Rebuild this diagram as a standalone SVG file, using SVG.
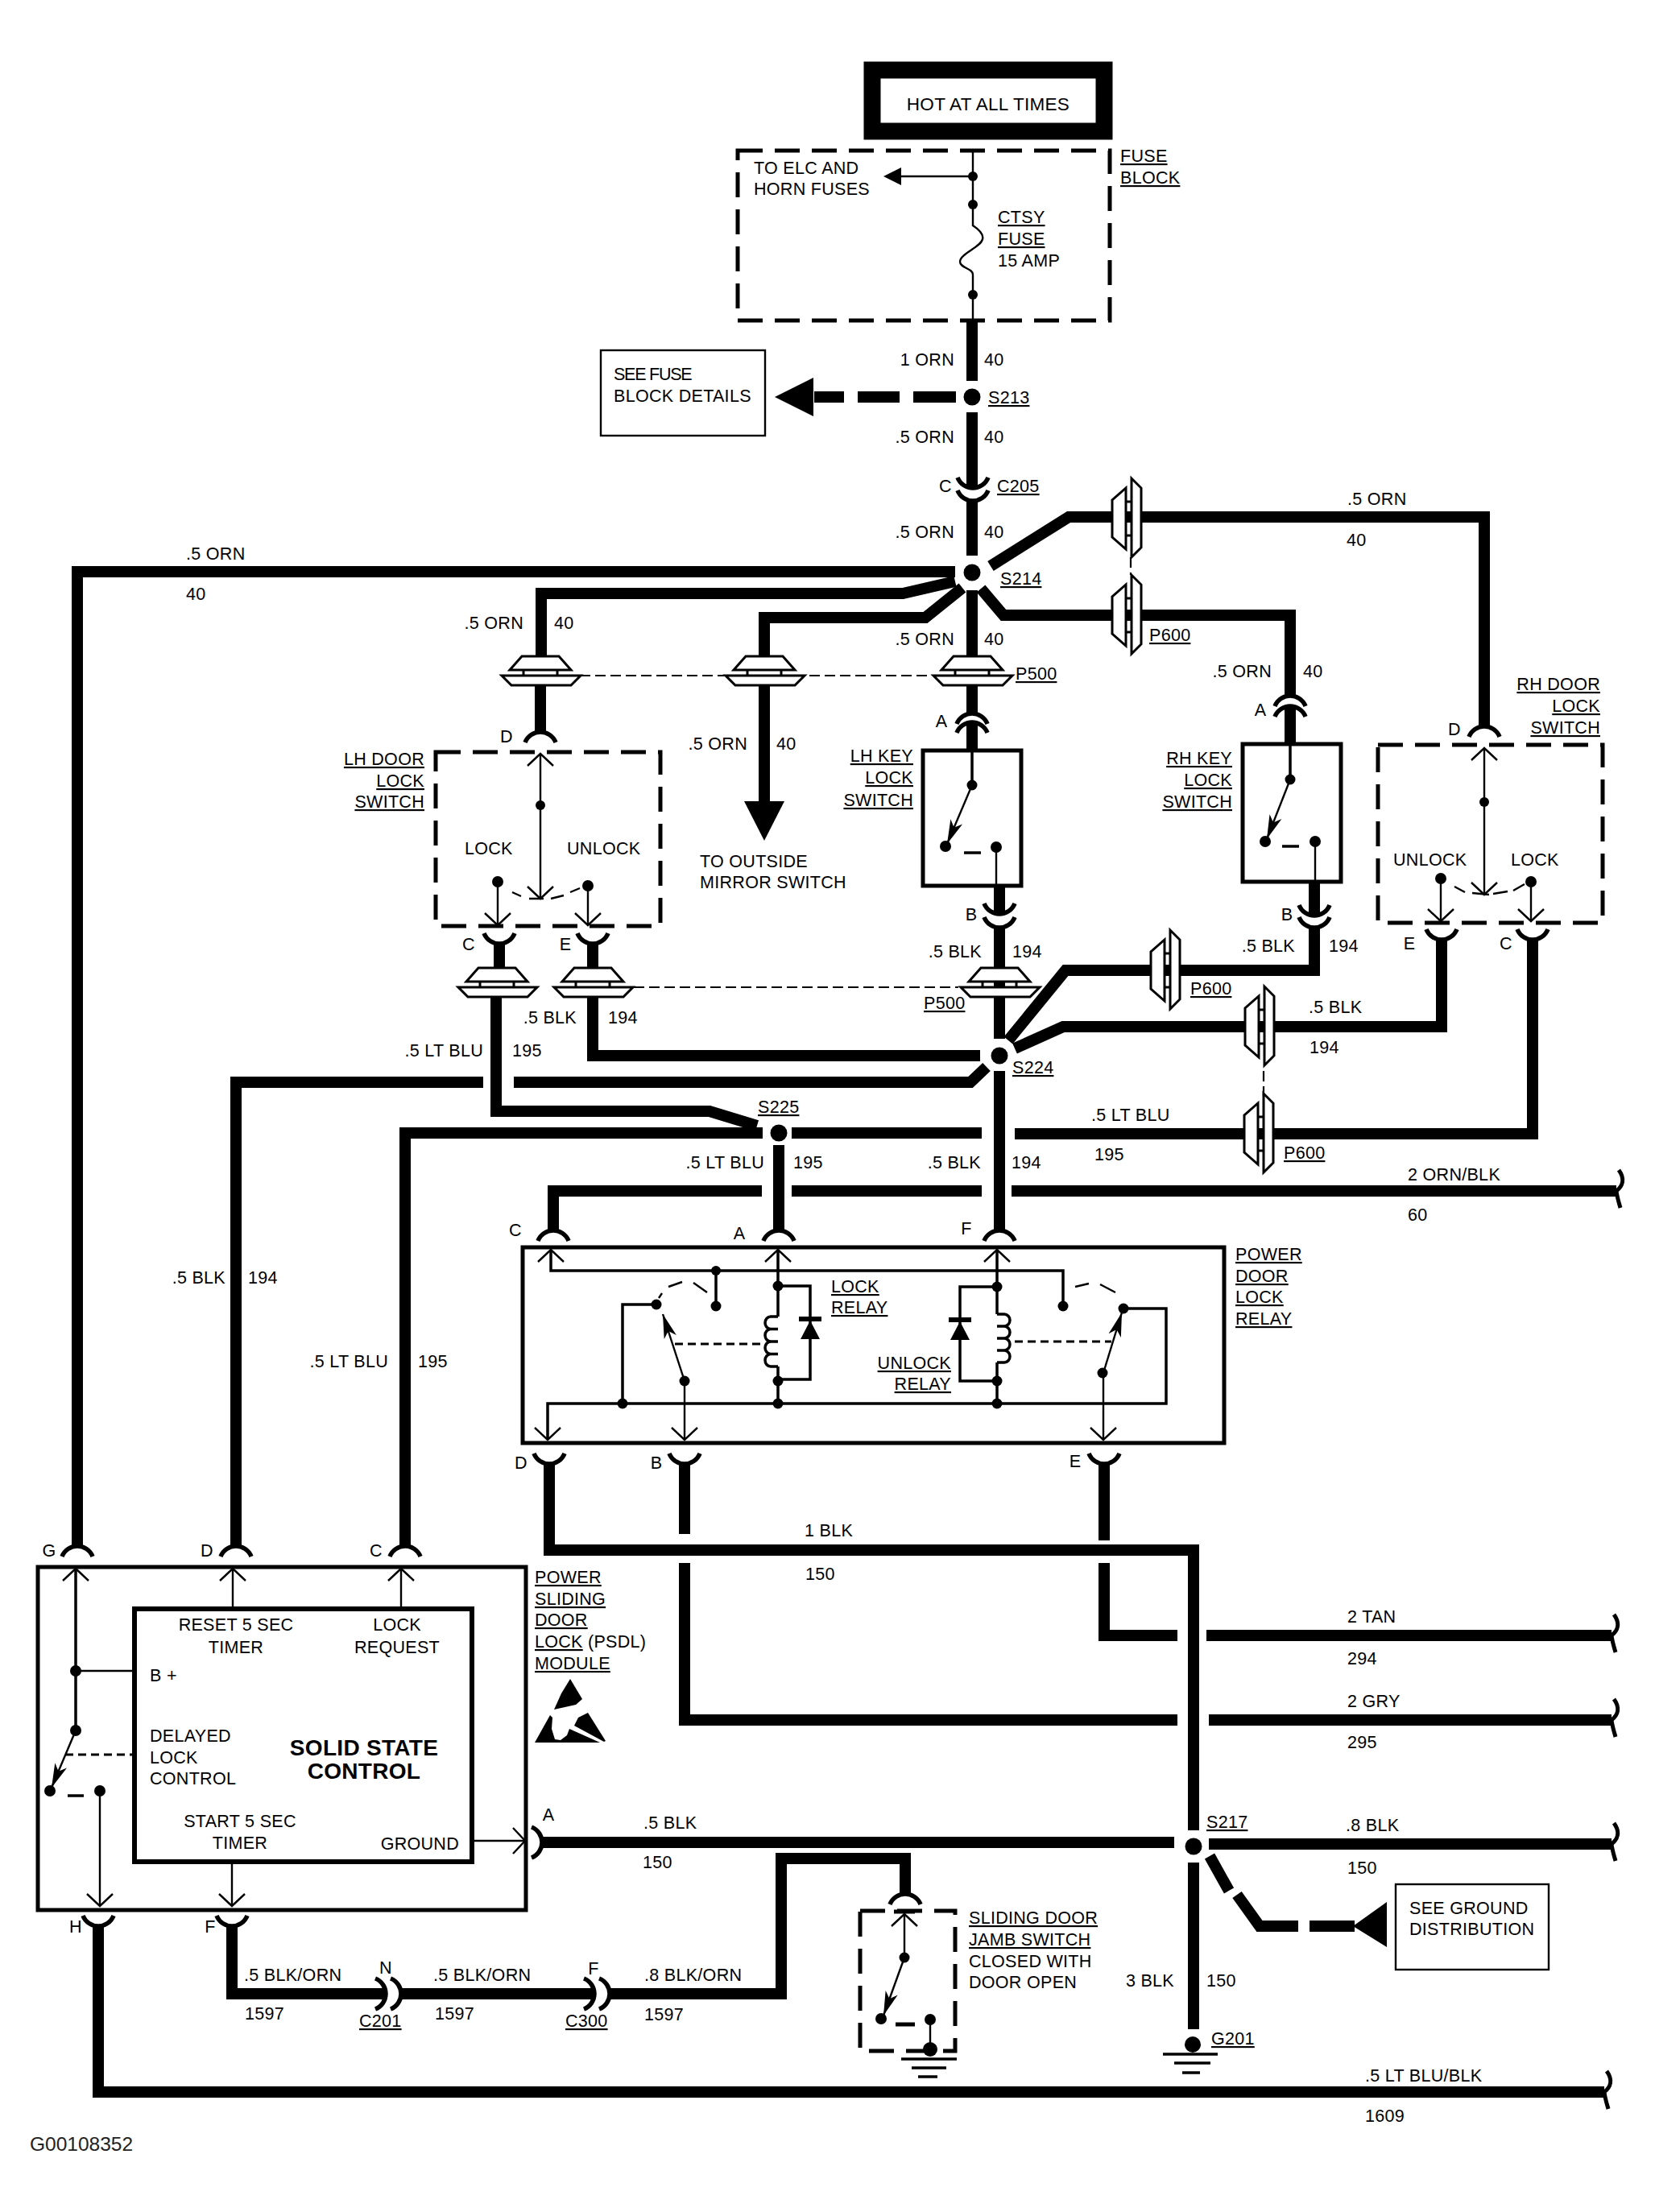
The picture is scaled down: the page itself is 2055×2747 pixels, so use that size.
<svg xmlns="http://www.w3.org/2000/svg" width="2055" height="2747" viewBox="0 0 2055 2747">
<style>
text{font-family:"Liberation Sans",Arial,sans-serif;font-size:21.5px;fill:#000;letter-spacing:.3px}
.r{text-anchor:end}.c{text-anchor:middle}
.u{text-decoration:underline;text-underline-offset:4px;text-decoration-thickness:1.5px}
.b{font-weight:bold;font-size:28px}
.w{fill:none;stroke:#000;stroke-width:14;stroke-linejoin:miter}
.t{fill:none;stroke:#000;stroke-width:2.4}
.t3{fill:none;stroke:#000;stroke-width:3.5}
.dl{fill:none;stroke:#000;stroke-width:2.2;stroke-dasharray:13 6}
.dt{fill:none;stroke:#000;stroke-width:3;stroke-dasharray:10 6}
.bx{fill:none;stroke:#000;stroke-width:5;stroke-dasharray:31 15}
.sb{fill:none;stroke:#000;stroke-width:5}
.lb{fill:#fff;stroke:#000;stroke-width:3}
.g{fill:none;stroke:#000;stroke-width:3.5}
.k{fill:#000}
</style>
<defs>
<g id="pt">
<path class="lb" d="M-21,-7V1M21,-7V1"/>
<polygon class="lb" points="-23,-24 23,-24 38,-7 -38,-7"/>
<polygon class="lb" points="-48,0 50,0 38,12 -36,12"/>
</g>
<path id="ch" class="t" d="M-16,15L0,0L16,15"/>
<path id="ar" fill="none" stroke="#000" stroke-width="5.5" d="M-19,-13C-16,-5 -8,0 0,0C8,0 16,-5 19,-13"/>
<path id="en" fill="none" stroke="#000" stroke-width="5" d="M3,-26C11,-15 8,-6 0,0C1,8 3,14 5,21"/>
<marker id="bl" viewBox="-30 -9 32 18" refX="0" refY="0" markerWidth="32" markerHeight="18" markerUnits="userSpaceOnUse" orient="auto"><path d="M0,0L-30,-8L-22,0L-30,8Z"/></marker>
</defs>
<rect width="2055" height="2747" fill="#fff"/>

<g id="connectors">
<path class="w" d="M1207,397V473M1207,512V606M1207,622V690"/>
<path class="w" d="M1230,703L1327,642H1843V902"/>
<path class="w" d="M1218,731L1246,764H1602V864M1602,877V924"/>
<path class="w" d="M1186,710H96V1920"/>
<path class="w" d="M1186,722L1121,737H672V815"/>
<path class="w" d="M1195,730L1149,767H949V815"/>
<path class="w" d="M1207,733V815M1207,851V886M1207,897V932"/>
<path class="w" d="M671,851V909"/>
<path class="w" d="M949,851V996"/>
<polygon class="k" points="949,1044 924,995 974,995"/>
<path class="w" d="M1241,1100V1135M1241,1152V1290"/>
<path class="w" d="M1632,1095V1137M1632,1152V1205H1323L1252,1292"/>
<path class="w" d="M1790,1167V1275H1320L1260,1302"/>
<path class="w" d="M1903,1167V1408H1260"/>
<path class="w" d="M1219,1407H983"/>
<path class="w" d="M947,1407H503V1920"/>
<path class="w" d="M620,1172V1205M616,1238V1380H881L940,1398"/>
<path class="w" d="M736,1172V1205M736,1238V1311H1217"/>
<path class="w" d="M293,1920V1344H600M638,1344H1205L1225,1325"/>
<path class="w" d="M1241,1330V1528"/>
<path class="w" d="M967,1422V1528"/>
<path class="w" d="M687,1528V1479H946M983,1479H1219M1256,1479H2007"/>
<path class="w" d="M682,1818V1925H1482V2273"/>
<path class="w" d="M850,1818V1905M850,1941V2136H1462M1501,2136H2001"/>
<path class="w" d="M1371,1818V1913M1371,1941V2031H1462M1498,2031H2001"/>
<path class="w" d="M673,2288H1458M1501,2290H2001"/>
<path class="w" d="M1482,2313V2520"/>
<path class="w" d="M122,2392V2598H1992"/>
<path class="w" d="M288,2392V2476H479M498,2476H738M757,2476H970V2308H1124V2352"/>
<path class="w" d="M1011,493H1048M1065,493H1117M1134,493H1187"/>
<polygon class="k" points="962,493 1010,469 1010,517"/>
<path class="w" d="M1502,2305L1526,2348M1536,2353L1564,2392H1612M1626,2392H1682"/>
<polygon class="k" points="1680,2392 1722,2362 1722,2418"/>
<path class="dl" d="M720,839H1157M787,1226H1190"/>
<path class="dl" d="M1404,692V714M1569,1330V1361"/>
</g>

<g id="hot"><rect x="1083" y="87" width="288" height="76" fill="#fff" stroke="#000" stroke-width="21"/><text x="1227" y="137" class="c" style="font-size:22.5px">HOT AT ALL TIMES</text></g>

<g id="fuse-block">
<rect class="bx" x="916" y="187" width="462" height="211"/>
<path class="t" d="M1208,187V280C1214,284 1222,290 1220,297C1218,307 1192,315 1192,325C1192,333 1208,333 1208,341V397"/>
<path class="t" d="M1208,219H1118"/><polygon class="k" points="1097,219 1119,208 1119,230"/>
<circle class="k" cx="1208" cy="219" r="6"/><circle class="k" cx="1208" cy="254" r="6"/><circle class="k" cx="1208" cy="366" r="6"/>
<text x="936" y="216">TO ELC AND</text><text x="936" y="242">HORN FUSES</text>
<text x="1391" y="201" class="u">FUSE</text><text x="1391" y="228" class="u">BLOCK</text>
<text x="1239" y="277" class="u">CTSY</text><text x="1239" y="304" class="u">FUSE</text><text x="1239" y="331">15 AMP</text>
</g>

<g id="see-fuse"><rect x="746" y="435" width="204" height="106" class="t"/><text x="762" y="472" textLength="98">SEE FUSE</text><text x="762" y="499">BLOCK DETAILS</text></g>

<g id="s213"><circle class="k" cx="1207" cy="493" r="10.5"/><text x="1227" y="501" class="u">S213</text></g>
<g id="c205"><use href="#ar" x="1208" y="606"/><use href="#ar" x="1208" y="622"/><text x="1166" y="611">C</text><text x="1238" y="611" class="u">C205</text></g>
<g id="s214"><circle class="k" cx="1207" cy="711" r="10.5"/><text x="1242" y="726" class="u">S214</text></g>
<g id="s224"><circle class="k" cx="1241" cy="1311" r="10.5"/><text x="1257" y="1333" class="u">S224</text></g>
<g id="s225"><circle class="k" cx="967" cy="1407" r="10.5"/><text x="941" y="1382" class="u">S225</text></g>
<g id="s217"><circle class="k" cx="1482" cy="2293" r="10.5"/><text x="1498" y="2270" class="u">S217</text></g>

<g id="p500-upper">
<use href="#pt" x="671" y="839"/><use href="#pt" x="949" y="839"/><use href="#pt" x="1207" y="839"/>
<text x="1261" y="844" class="u">P500</text>
</g>
<g id="p500-lower">
<use href="#pt" x="617" y="1226"/><use href="#pt" x="736" y="1226"/><use href="#pt" x="1241" y="1226"/>
<text x="1147" y="1253" class="u">P500</text>
</g>
<g id="p600-group">
<use href="#pt" transform="translate(1405,644) rotate(-90)"/>
<use href="#pt" transform="translate(1405,764) rotate(-90)"/>
<use href="#pt" transform="translate(1453,1205) rotate(-90)"/>
<use href="#pt" transform="translate(1570,1275) rotate(-90)"/>
<use href="#pt" transform="translate(1569,1408) rotate(-90)"/>
<text x="1427" y="796" class="u">P600</text><text x="1478" y="1235" class="u">P600</text><text x="1594" y="1439" class="u">P600</text>
</g>

<g id="lh-door-switch">
<rect class="bx" x="541" y="934" width="279" height="216"/>
<use href="#ar" transform="translate(671,909) rotate(180)"/>
<path class="t" d="M671,936V1116M618,1095V1149M730,1100V1149"/>
<use href="#ch" x="671" y="936"/>
<use href="#ch" transform="translate(671,1116) rotate(180)"/><use href="#ch" transform="translate(618,1149) rotate(180)"/><use href="#ch" transform="translate(730,1149) rotate(180)"/>
<circle class="k" cx="671" cy="1000" r="6"/><circle class="k" cx="618" cy="1095" r="7"/><circle class="k" cx="730" cy="1100" r="7"/>
<path class="t" d="M636,1108L647,1113M657,1116H675M684,1116L700,1112M708,1108L720,1103"/>
<use href="#ar" x="620" y="1172"/><use href="#ar" x="736" y="1172"/>
<text x="629" y="922" class="c">D</text><text x="582" y="1180" class="c">C</text><text x="702" y="1180" class="c">E</text>
<text x="577" y="1061">LOCK</text><text x="704" y="1061">UNLOCK</text>
<text x="527" y="950" class="r u">LH DOOR</text><text x="527" y="977" class="r u">LOCK</text><text x="527" y="1003" class="r u">SWITCH</text>
</g>

<g id="lh-key-switch">
<rect class="sb" x="1146" y="932" width="122" height="168"/>
<use href="#ar" transform="translate(1207,886) rotate(180)"/><use href="#ar" transform="translate(1207,897) rotate(180)"/>
<use href="#ar" x="1241" y="1135"/><use href="#ar" x="1241" y="1152"/>
<path class="t3" d="M1207,932V975"/><path class="t" d="M1207,975L1176,1048" marker-end="url(#bl)"/>
<path class="t" d="M1237,1052V1100"/><path class="t3" d="M1197,1059H1218"/>
<circle class="k" cx="1207" cy="975" r="6.5"/><circle class="k" cx="1174" cy="1051" r="7"/><circle class="k" cx="1237" cy="1052" r="7"/>
<text x="1169" y="903" class="c">A</text><text x="1206" y="1143" class="c">B</text>
<text x="1134" y="946" class="r u">LH KEY</text><text x="1134" y="973" class="r u">LOCK</text><text x="1134" y="1001" class="r u">SWITCH</text>
</g>

<g id="rh-key-switch">
<rect class="sb" x="1543" y="924" width="122" height="171"/>
<use href="#ar" transform="translate(1602,864) rotate(180)"/><use href="#ar" transform="translate(1602,877) rotate(180)"/>
<use href="#ar" x="1632" y="1137"/><use href="#ar" x="1632" y="1152"/>
<path class="t3" d="M1602,924V968"/><path class="t" d="M1602,968L1573,1042" marker-end="url(#bl)"/>
<path class="t" d="M1633,1045V1095"/><path class="t3" d="M1592,1051H1613"/>
<circle class="k" cx="1602" cy="968" r="6.5"/><circle class="k" cx="1571" cy="1045" r="7"/><circle class="k" cx="1633" cy="1045" r="7"/>
<text x="1565" y="889" class="c">A</text><text x="1598" y="1143" class="c">B</text>
<text x="1530" y="949" class="r u">RH KEY</text><text x="1530" y="976" class="r u">LOCK</text><text x="1530" y="1003" class="r u">SWITCH</text>
</g>

<g id="rh-door-switch">
<rect class="bx" x="1711" y="925" width="279" height="221"/>
<use href="#ar" transform="translate(1843,902) rotate(180)"/>
<path class="t" d="M1843,929V1111M1789,1091V1144M1901,1095V1144"/>
<use href="#ch" x="1843" y="929"/>
<use href="#ch" transform="translate(1843,1111) rotate(180)"/><use href="#ch" transform="translate(1789,1144) rotate(180)"/><use href="#ch" transform="translate(1901,1144) rotate(180)"/>
<circle class="k" cx="1843" cy="996" r="6"/><circle class="k" cx="1789" cy="1091" r="7"/><circle class="k" cx="1901" cy="1095" r="7"/>
<path class="t" d="M1806,1101L1819,1108M1828,1109L1849,1111M1854,1110L1872,1107M1879,1106L1893,1098"/>
<use href="#ar" x="1790" y="1167"/><use href="#ar" x="1903" y="1167"/>
<text x="1806" y="913" class="c">D</text><text x="1750" y="1179" class="c">E</text><text x="1870" y="1179" class="c">C</text>
<text x="1730" y="1075">UNLOCK</text><text x="1876" y="1075">LOCK</text>
<text x="1987" y="857" class="r u">RH DOOR</text><text x="1987" y="884" class="r u">LOCK</text><text x="1987" y="911" class="r u">SWITCH</text>
</g>

<g id="power-door-lock-relay">
<rect class="sb" x="649" y="1549" width="871" height="243"/>
<use href="#ar" transform="translate(687,1528) rotate(180)"/><use href="#ar" transform="translate(967,1528) rotate(180)"/><use href="#ar" transform="translate(1241,1528) rotate(180)"/>
<use href="#ar" x="682" y="1818"/><use href="#ar" x="850" y="1818"/><use href="#ar" x="1371" y="1818"/>
<path class="t3" d="M684,1552V1578H1320V1622M889,1578V1622"/>
<path class="t3" d="M966,1552V1635M966,1597H1006V1713H966M966,1697V1743"/>
<path class="t3" d="M1238,1552V1632M1238,1598H1192V1715H1238M1238,1692V1743"/>
<path class="t3" d="M680,1787V1743H1448V1625H1395M773,1743V1620H815"/>
<path class="t" d="M850,1715L823,1632" marker-end="url(#bl)"/><path class="t" d="M850,1715V1788M1370,1705V1788"/>
<path class="t" d="M1370,1705L1393,1630" marker-end="url(#bl)"/>
<use href="#ch" x="684" y="1552"/><use href="#ch" x="966" y="1552"/><use href="#ch" x="1238" y="1552"/>
<use href="#ch" transform="translate(680,1788) rotate(180)"/><use href="#ch" transform="translate(850,1788) rotate(180)"/><use href="#ch" transform="translate(1370,1788) rotate(180)"/>
<circle class="k" cx="889" cy="1578" r="6"/><circle class="k" cx="889" cy="1622" r="6.5"/><circle class="k" cx="966" cy="1597" r="6.5"/><circle class="k" cx="966" cy="1715" r="6.5"/><circle class="k" cx="966" cy="1743" r="6.5"/><circle class="k" cx="773" cy="1743" r="6.5"/><circle class="k" cx="815" cy="1620" r="6.5"/><circle class="k" cx="850" cy="1715" r="6.5"/>
<circle class="k" cx="1238" cy="1598" r="6.5"/><circle class="k" cx="1238" cy="1715" r="6.5"/><circle class="k" cx="1238" cy="1743" r="6.5"/><circle class="k" cx="1320" cy="1622" r="6.5"/><circle class="k" cx="1395" cy="1625" r="6.5"/><circle class="k" cx="1369" cy="1705" r="6.5"/>
<path class="t3" d="M966,1635H957a7,7.75 0 0 0 0,15.5H966M957,1650.5a7,7.75 0 0 0 0,15.5H966M957,1666a7,7.75 0 0 0 0,15.5H966M957,1681.5a7,7.75 0 0 0 0,15.5H966"/>
<path class="t3" d="M1238,1632H1247a7,7.5 0 0 1 0,15H1238M1247,1647a7,7.5 0 0 1 0,15H1238M1247,1662a7,7.5 0 0 1 0,15H1238M1247,1677a7,7.5 0 0 1 0,15H1238"/>
<path class="k" d="M992,1635h28v6h-28zM1006,1640L1018,1663H994Z"/>
<path class="k" d="M1178,1636h28v6h-28zM1192,1641L1204,1664H1180Z"/>
<path class="dt" d="M838,1669H944M1260,1666H1380"/>
<path class="t" d="M818,1612L822,1606M830,1598L847,1592M861,1593L878,1605M1335,1598L1352,1594M1366,1595L1385,1605"/>
<text x="640" y="1535" class="c">C</text><text x="918" y="1539" class="c">A</text><text x="1200" y="1533" class="c">F</text>
<text x="647" y="1824" class="c">D</text><text x="815" y="1824" class="c">B</text><text x="1335" y="1822" class="c">E</text>
<text x="1032" y="1605" class="u">LOCK</text><text x="1032" y="1631" class="u">RELAY</text>
<text x="1181" y="1700" class="r u">UNLOCK</text><text x="1181" y="1726" class="r u">RELAY</text>
<text x="1534" y="1565" class="u">POWER</text><text x="1534" y="1592" class="u">DOOR</text><text x="1534" y="1618" class="u">LOCK</text><text x="1534" y="1645" class="u">RELAY</text>
</g>

<g id="psdl-module">
<rect class="sb" x="47" y="1946" width="606" height="426"/>
<rect fill="none" stroke="#000" stroke-width="6" x="167" y="1998" width="419" height="314"/>
<use href="#ar" transform="translate(96,1920) rotate(180)"/><use href="#ar" transform="translate(293,1920) rotate(180)"/><use href="#ar" transform="translate(503,1920) rotate(180)"/>
<use href="#ar" x="122" y="2392"/><use href="#ar" x="288" y="2392"/>
<use href="#ar" transform="translate(673,2288) rotate(-90)"/>
<path class="t3" d="M94,1948V2149"/><path class="t" d="M94,2075H165M289,1948V1996M498,1948V1996M124,2224V2367M288,2312V2367M586,2286H652"/>
<path class="t" d="M94,2149L64,2220" marker-end="url(#bl)"/>
<path class="dt" d="M81,2179H165"/><path class="t3" d="M84,2230H104"/>
<use href="#ch" x="94" y="1948"/><use href="#ch" x="289" y="1948"/><use href="#ch" x="498" y="1948"/>
<use href="#ch" transform="translate(124,2367) rotate(180)"/><use href="#ch" transform="translate(288,2367) rotate(180)"/><use href="#ch" transform="translate(652,2286) rotate(90)"/>
<circle class="k" cx="94" cy="2075" r="7"/><circle class="k" cx="94" cy="2149" r="7"/><circle class="k" cx="62" cy="2224" r="7"/><circle class="k" cx="124" cy="2224" r="7"/>
<text x="61" y="1933" class="c">G</text><text x="257" y="1933" class="c">D</text><text x="467" y="1933" class="c">C</text>
<text x="94" y="2400" class="c">H</text><text x="261" y="2400" class="c">F</text><text x="681" y="2261" class="c">A</text>
<text x="293" y="2025" class="c">RESET 5 SEC</text><text x="293" y="2053" class="c">TIMER</text>
<text x="493" y="2025" class="c">LOCK</text><text x="493" y="2053" class="c">REQUEST</text>
<text x="186" y="2088">B +</text>
<text x="186" y="2163">DELAYED</text><text x="186" y="2190">LOCK</text><text x="186" y="2216">CONTROL</text>
<text x="452" y="2180" class="c b">SOLID STATE</text><text x="452" y="2209" class="c b">CONTROL</text>
<text x="298" y="2269" class="c">START 5 SEC</text><text x="298" y="2296" class="c">TIMER</text>
<text x="570" y="2297" class="r">GROUND</text>
<text x="664" y="1966" class="u">POWER</text><text x="664" y="1993" class="u">SLIDING</text><text x="664" y="2019" class="u">DOOR</text><text x="664" y="2046"><tspan class="u">LOCK</tspan> (PSDL)</text><text x="664" y="2073" class="u">MODULE</text>
<g id="esd"><polygon class="k" points="708,2085 723,2110 715,2117 688,2123 697,2103"/><polygon class="k" points="664,2164 683,2130 686,2133 685,2147 689,2160 696,2161 704,2155 707,2147 745,2164"/><polygon class="k" points="730,2127 752,2162 750,2163 713,2143 718,2133"/></g>
</g>

<g id="c201"><use href="#ar" transform="translate(479,2476) rotate(-90)"/><use href="#ar" transform="translate(498,2476) rotate(-90)"/><text x="479" y="2451" class="c">N</text><text x="446" y="2517" class="u">C201</text></g>
<g id="c300"><use href="#ar" transform="translate(738,2476) rotate(-90)"/><use href="#ar" transform="translate(757,2476) rotate(-90)"/><text x="737" y="2452" class="c">F</text><text x="702" y="2517" class="u">C300</text></g>

<g id="sliding-door-jamb-switch">
<rect class="bx" x="1068" y="2373" width="118" height="174"/>
<use href="#ar" transform="translate(1124,2352) rotate(180)"/>
<path class="t" d="M1123,2375V2431M1155,2508V2545"/><path class="t" d="M1123,2431L1097,2503" marker-end="url(#bl)"/>
<use href="#ch" x="1123" y="2377"/>
<path class="sb" d="M1110,2374H1136M1112,2514H1136"/>
<circle class="k" cx="1123" cy="2431" r="6.5"/><circle class="k" cx="1094" cy="2507" r="7"/><circle class="k" cx="1155" cy="2508" r="7"/><circle class="k" cx="1155" cy="2545" r="9"/>
<path class="g" d="M1119,2557H1188M1132,2568H1175M1140,2579H1164"/>
<text x="1203" y="2389" class="u">SLIDING DOOR</text><text x="1203" y="2416" class="u">JAMB SWITCH</text><text x="1203" y="2443">CLOSED WITH</text><text x="1203" y="2469">DOOR OPEN</text>
</g>

<g id="g201"><circle class="k" cx="1481" cy="2539" r="10"/><path class="g" d="M1444,2551H1512M1458,2562H1503M1468,2574H1490"/><text x="1504" y="2539" class="u">G201</text></g>
<g id="see-ground"><rect x="1733" y="2340" width="190" height="106" class="t"/><text x="1750" y="2377">SEE GROUND</text><text x="1750" y="2403">DISTRIBUTION</text></g>

<g id="wire-ends">
<use href="#en" x="2007" y="1479"/><use href="#en" x="2001" y="2031"/><use href="#en" x="2001" y="2136"/><use href="#en" x="2001" y="2290"/><use href="#en" x="1992" y="2598"/>
</g>

<g id="wire-labels">
<text x="1185" y="454" class="r">1 ORN</text><text x="1222" y="454">40</text>
<text x="1185" y="550" class="r">.5 ORN</text><text x="1222" y="550">40</text>
<text x="1185" y="668" class="r">.5 ORN</text><text x="1222" y="668">40</text>
<text x="1185" y="801" class="r">.5 ORN</text><text x="1222" y="801">40</text>
<text x="1673" y="627">.5 ORN</text><text x="1672" y="678">40</text>
<text x="231" y="695">.5 ORN</text><text x="231" y="745">40</text>
<text x="650" y="781" class="r">.5 ORN</text><text x="688" y="781">40</text>
<text x="928" y="931" class="r">.5 ORN</text><text x="964" y="931">40</text>
<text x="869" y="1077">TO OUTSIDE</text><text x="869" y="1103">MIRROR SWITCH</text>
<text x="1579" y="841" class="r">.5 ORN</text><text x="1618" y="841">40</text>
<text x="1219" y="1189" class="r">.5 BLK</text><text x="1257" y="1189">194</text>
<text x="1608" y="1182" class="r">.5 BLK</text><text x="1650" y="1182">194</text>
<text x="1625" y="1258">.5 BLK</text><text x="1626" y="1308">194</text>
<text x="716" y="1271" class="r">.5 BLK</text><text x="755" y="1271">194</text>
<text x="600" y="1312" class="r">.5 LT BLU</text><text x="636" y="1312">195</text>
<text x="1355" y="1392">.5 LT BLU</text><text x="1359" y="1441">195</text>
<text x="949" y="1451" class="r">.5 LT BLU</text><text x="985" y="1451">195</text>
<text x="1218" y="1451" class="r">.5 BLK</text><text x="1256" y="1451">194</text>
<text x="1748" y="1466">2 ORN/BLK</text><text x="1748" y="1516">60</text>
<text x="280" y="1594" class="r">.5 BLK</text><text x="308" y="1594">194</text>
<text x="482" y="1698" class="r">.5 LT BLU</text><text x="519" y="1698">195</text>
<text x="999" y="1908">1 BLK</text><text x="1000" y="1962">150</text>
<text x="1673" y="2015">2 TAN</text><text x="1673" y="2067">294</text>
<text x="1673" y="2120">2 GRY</text><text x="1673" y="2171">295</text>
<text x="799" y="2271">.5 BLK</text><text x="798" y="2320">150</text>
<text x="1671" y="2274">.8 BLK</text><text x="1673" y="2327">150</text>
<text x="303" y="2460">.5 BLK/ORN</text><text x="304" y="2508">1597</text>
<text x="538" y="2460">.5 BLK/ORN</text><text x="540" y="2508">1597</text>
<text x="800" y="2460">.8 BLK/ORN</text><text x="800" y="2509">1597</text>
<text x="1458" y="2467" class="r">3 BLK</text><text x="1498" y="2467">150</text>
<text x="1695" y="2585">.5 LT BLU/BLK</text><text x="1695" y="2635">1609</text>
</g>
<text id="code" x="37" y="2671" style="font-size:24.5px;letter-spacing:0;fill:#222">G00108352</text>
</svg>
